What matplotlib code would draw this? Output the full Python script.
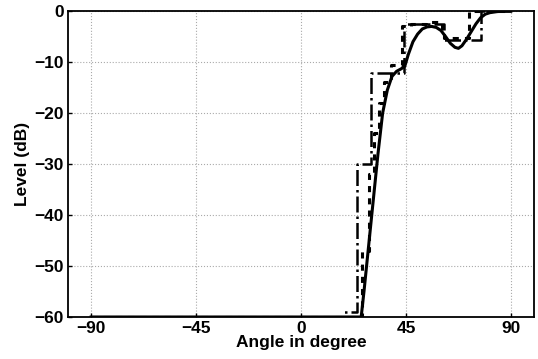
import numpy as np
import matplotlib.pyplot as plt

plt.rcParams['font.family'] = ['Liberation Sans', 'DejaVu Sans']
plt.rcParams['font.weight'] = 'bold'

# smooth pattern (solid)
ang_solid = [-90, 25.8, 27, 29, 31, 33, 35, 37, 39, 41, 43, 44.5, 46, 48, 50, 52, 54,
             56, 58, 60, 62, 64, 66, 67.5, 69, 71, 73, 75, 77, 79, 81, 84, 87, 90]
lev_solid = [-60, -60, -55, -46, -37, -28, -20, -15.5, -12.8, -11.8, -11.3, -10.8, -8.5,
             -6, -4.5, -3.5, -3.1, -3.0, -3.2, -3.8, -5, -6.3, -7.1, -7.3, -6.8, -5.5,
             -4, -2.5, -1.3, -0.6, -0.3, -0.1, 0, 0]

# fine staircase (dashed)
ang_fine = [-90, 26, 26, 29, 29, 31.5, 31.5, 33.5, 33.5, 35.5, 35.5, 38.5, 38.5,
            43.5, 43.5, 47, 47, 53.5, 53.5, 60.5, 60.5, 61.5, 61.5, 72, 72, 90]
lev_fine = [-60, -60, -47, -47, -32, -32, -24, -24, -18, -18, -14, -14, -10.6,
            -10.6, -3, -3, -2.5, -2.5, -2.1, -2.1, -4, -4, -5.3, -5.3, 0, 0]

# coarse staircase (dash-dot)
ang_coarse = [-90, 18.5, 18.5, 24, 24, 30, 30, 44, 44, 61.5, 61.5, 77, 77, 90]
lev_coarse = [-60, -60, -59, -59, -30, -30, -12.2, -12.2, -2.6, -2.6, -5.6, -5.6, 0, 0]

fig = plt.figure(figsize=(5.38, 3.59), dpi=100)
ax = fig.add_axes([0.126, 0.117, 0.867, 0.852])

ax.plot(ang_coarse, lev_coarse, color='black', lw=1.8, ls='-.')
ax.plot(ang_fine, lev_fine, color='black', lw=2.2, ls='--', dashes=(2, 2))
ax.plot(ang_solid, lev_solid, color='black', lw=2.2, ls='-')

ax.set_xlim(-100, 100)
ax.set_ylim(-60, 0)
ax.set_xticks([-90, -45, 0, 45, 90])
ax.set_yticks([-60, -50, -40, -30, -20, -10, 0])
ax.set_xticklabels(['\u221290', '\u221245', '0', '45', '90'])
ax.set_yticklabels(['\u221260', '\u221250', '\u221240', '\u221230', '\u221220', '\u221210', '0'])
ax.grid(True, color='#aaaaaa', ls=':', lw=0.8)
ax.tick_params(direction='in', length=3, labelsize=12.5, width=1, pad=3)
for sp in ax.spines.values():
    sp.set_linewidth(1.3)

ax.set_xlabel('Angle in degree', fontsize=12.5, fontweight='bold', labelpad=-1)
ax.set_ylabel('Level (dB)', fontsize=12.5, fontweight='bold', labelpad=3)

fig.savefig('out.png', dpi=100)
